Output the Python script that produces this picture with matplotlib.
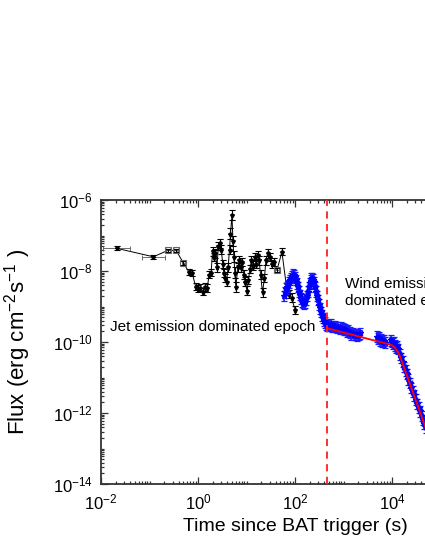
import numpy as np
import matplotlib
matplotlib.use("Agg")
import matplotlib.pyplot as plt
from matplotlib.ticker import LogLocator, NullFormatter

plt.rcParams['font.family'] = ['Liberation Sans', 'DejaVu Sans']
plt.rcParams['mathtext.fontset'] = 'custom'
plt.rcParams['mathtext.rm'] = 'Liberation Sans'
plt.rcParams['mathtext.it'] = 'Liberation Sans'
plt.rcParams['mathtext.default'] = 'regular'

# ---- data (log10 values) ----
# Black (prompt) light curve
black_logt = [-1.68, -0.92, -0.62, -0.45, -0.30, -0.19, -0.12, -0.05, 0.00, 0.05,
              0.10, 0.14, 0.19, 0.23, 0.27, 0.30, 0.33, 0.36, 0.39, 0.42,
              0.45, 0.48, 0.51, 0.53, 0.56, 0.59, 0.62, 0.65, 0.67, 0.70,
              0.72, 0.74, 0.76, 0.78, 0.82, 0.85, 0.88, 0.91, 0.94, 0.97,
              1.01, 1.04, 1.07, 1.10, 1.13, 1.17, 1.20, 1.23, 1.26, 1.29,
              1.33, 1.37, 1.40, 1.44, 1.48, 1.52, 1.57, 1.63, 1.73, 1.83,
              1.88, 1.93, 2.00]
black_logF = [-7.36, -7.60, -7.42, -7.42, -7.78, -8.02, -8.05, -8.44, -8.50, -8.47,
              -8.58, -8.45, -8.48, -8.10, -8.05, -7.45, -7.60, -7.50, -7.90, -7.30,
              -7.22, -7.40, -7.80, -8.05, -8.20, -8.30, -7.90, -7.40, -6.95, -6.42,
              -7.15, -7.60, -8.05, -8.45, -7.90, -7.70, -7.90, -7.75, -8.10, -8.30,
              -8.55, -8.25, -7.95, -7.70, -7.85, -7.60, -7.80, -7.55, -7.70, -8.10,
              -8.60, -8.20, -7.70, -7.50, -7.60, -7.80, -7.75, -7.97, -7.46, -8.50,
              -8.65, -8.75, -9.10]
black_dlogF = [0.06, 0.06, 0.04, 0.04, 0.05, 0.08, 0.08, 0.10, 0.10, 0.10,
               0.10, 0.10, 0.10, 0.10, 0.10, 0.12, 0.12, 0.12, 0.12, 0.12,
               0.12, 0.12, 0.12, 0.12, 0.12, 0.12, 0.12, 0.12, 0.15, 0.15,
               0.15, 0.15, 0.15, 0.15, 0.12, 0.12, 0.12, 0.12, 0.12, 0.12,
               0.12, 0.12, 0.12, 0.12, 0.12, 0.12, 0.12, 0.12, 0.12, 0.12,
               0.12, 0.12, 0.12, 0.12, 0.12, 0.12, 0.12, 0.06, 0.10, 0.12,
               0.12, 0.12, 0.12]
black_dlogt = [0.27, 0.23, 0.04, 0.04, 0.03, 0.02, 0.02, 0.02, 0.02, 0.02,
               0.02, 0.02, 0.02, 0.02, 0.02, 0.015, 0.015, 0.015, 0.015, 0.015,
               0.015, 0.015, 0.015, 0.015, 0.015, 0.015, 0.015, 0.015, 0.01, 0.01,
               0.01, 0.01, 0.01, 0.01, 0.015, 0.015, 0.015, 0.015, 0.015, 0.015,
               0.015, 0.015, 0.015, 0.015, 0.015, 0.015, 0.015, 0.015, 0.015, 0.015,
               0.015, 0.015, 0.015, 0.015, 0.015, 0.015, 0.015, 0.04, 0.02, 0.02,
               0.02, 0.02, 0.02]
black_square_idx = [2, 3, 4, 57]

# Blue (XRT) light curve
blue_logt = [1.78, 1.80, 1.82, 1.84, 1.86, 1.88, 1.90, 1.92, 1.94, 1.96,
             1.98, 2.00, 2.02, 2.04, 2.06, 2.08, 2.10, 2.12, 2.14, 2.16,
             2.18, 2.20, 2.22, 2.24, 2.26, 2.28, 2.30, 2.32, 2.34, 2.36,
             2.38, 2.40, 2.42, 2.44, 2.46, 2.48, 2.50, 2.52, 2.54, 2.56,
             2.58, 2.60, 2.62, 2.64, 2.66,
             2.68, 2.71, 2.74, 2.77, 2.80, 2.83, 2.86, 2.89, 2.92, 2.95,
             2.98, 3.01, 3.04, 3.07, 3.10, 3.13, 3.16, 3.19, 3.22, 3.25,
             3.28, 3.31, 3.34,
             3.70, 3.72, 3.74, 3.76, 3.78, 3.80, 3.82, 3.84, 3.86,
             3.98, 4.00, 4.02, 4.04, 4.06, 4.08, 4.10, 4.12,
             4.16, 4.19, 4.22, 4.25, 4.28, 4.31, 4.34, 4.37, 4.40, 4.43,
             4.46, 4.49, 4.52, 4.55, 4.58, 4.61, 4.64, 4.67, 4.70]
blue_logF = [-8.70, -8.60, -8.50, -8.45, -8.40, -8.32, -8.25, -8.20, -8.15, -8.10,
             -8.12, -8.18, -8.25, -8.35, -8.45, -8.58, -8.68, -8.78, -8.85, -8.90,
             -8.92, -8.88, -8.80, -8.70, -8.58, -8.45, -8.35, -8.27, -8.22, -8.20,
             -8.24, -8.32, -8.45, -8.58, -8.70, -8.82, -8.95, -9.05, -9.15, -9.25,
             -9.32, -9.40, -9.45, -9.50, -9.55,
             -9.52, -9.55, -9.50, -9.56, -9.58, -9.55, -9.60, -9.58, -9.63, -9.60,
             -9.62, -9.66, -9.64, -9.70, -9.68, -9.74, -9.78, -9.75, -9.80, -9.78,
             -9.82, -9.80, -9.76,
             -9.85, -9.90, -9.88, -9.95, -9.92, -9.98, -10.00, -9.96, -10.02,
             -9.95, -10.00, -10.05, -10.02, -10.10, -10.15, -10.12, -10.20,
             -10.35, -10.45, -10.55, -10.70, -10.80, -10.90, -11.05, -11.15, -11.30, -11.40,
             -11.50, -11.62, -11.75, -11.85, -11.95, -12.08, -12.20, -12.30, -12.40]
blue_dlogF = 0.15
blue_dlogt = 0.035

# Red broken power-law fit
red_logt = [2.66, 3.50, 3.90, 4.00, 4.06, 4.12, 4.17, 4.70]
red_logF = [-9.61, -9.91, -10.05, -10.09, -10.16, -10.27, -10.42, -12.44]

t_dashed = 460.0

xlim = (1e-2, 1e6)
ylim = (1e-14, 1e-6)
xticks = [1e-2, 1e0, 1e2, 1e4]
xticklabels = ['10$^{-2}$', '10$^{0}$', '10$^{2}$', '10$^{4}$']
yticks = [1e-14, 1e-12, 1e-10, 1e-8, 1e-6]
yticklabels = ['10$^{-14}$', '10$^{-12}$', '10$^{-10}$', '10$^{-8}$', '10$^{-6}$']

# ---- helpers ----
def to_lin(logv):
    return 10.0 ** np.asarray(logv, dtype=float)

def asym_err(logv, dlog):
    v = to_lin(logv)
    d = np.broadcast_to(np.asarray(dlog, dtype=float), v.shape)
    return np.vstack([v * (1 - 10.0 ** (-d)), v * (10.0 ** d - 1)])

# ---- figure ----
fig = plt.figure(figsize=(4.25, 5.5), dpi=100)
ax = fig.add_axes([101 / 425, 66 / 550, 388 / 425, 284 / 550])

bt = to_lin(black_logt)
bF = to_lin(black_logF)
ax.plot(bt, bF, color='black', lw=0.7, zorder=2)
ax.errorbar(bt, bF, yerr=asym_err(black_logF, black_dlogF),
            xerr=asym_err(black_logt, black_dlogt),
            fmt='none', ecolor='#555555', elinewidth=0.6, capsize=1.8,
            capthick=0.6, zorder=3)
ax.errorbar(bt, bF, yerr=asym_err(black_logF, black_dlogF),
            fmt='none', ecolor='black', elinewidth=0.8, capsize=2.2,
            capthick=0.8, zorder=3)
mask = np.zeros(len(bt), bool)
mask[black_square_idx] = True
ax.plot(bt[~mask], bF[~mask], ls='none', marker='*', ms=3, color='black', zorder=4)
ax.plot(bt[mask], bF[mask], ls='none', marker='s', ms=4.5, mfc='none',
        mec='#666666', mew=0.8, zorder=4)

ut = to_lin(blue_logt)
uF = to_lin(blue_logF)
ax.errorbar(ut, uF, yerr=asym_err(blue_logF, blue_dlogF),
            xerr=asym_err(blue_logt, blue_dlogt),
            fmt='*', ms=4, color='#0000ff', ecolor='#1a1aff', elinewidth=1.2,
            capsize=2.3, capthick=0.9, zorder=5)

ax.plot(to_lin(red_logt), to_lin(red_logF), color='#ff0000', lw=1.3, zorder=6)
ax.axvline(t_dashed, color='#ff2020', lw=1.3, ls=(0, (4, 3)), zorder=6)

ax.set_xscale('log')
ax.set_yscale('log')
ax.set_xlim(*xlim)
ax.set_ylim(*ylim)
ax.set_xticks(xticks)
ax.set_xticklabels(xticklabels)
ax.set_yticks(yticks)
ax.set_yticklabels(yticklabels)
ax.xaxis.set_minor_locator(LogLocator(base=10, subs=np.arange(1, 10), numticks=100))
ax.yaxis.set_minor_locator(LogLocator(base=10, subs=np.arange(1, 10), numticks=100))
ax.xaxis.set_minor_formatter(NullFormatter())
ax.yaxis.set_minor_formatter(NullFormatter())
ax.tick_params(which='both', direction='in', top=True, right=True,
               width=0.9, color='#333333', labelsize=12, pad=6)
ax.tick_params(which='major', length=5)
ax.tick_params(which='minor', length=2.5)
for s in ax.spines.values():
    s.set_linewidth(1.3)
    s.set_color('#333333')

ax.set_xlabel('Time since BAT trigger (s)', fontsize=14, labelpad=4)
ax.set_ylabel('Flux (erg cm$^{-2}$s$^{-1}$ )', fontsize=16)
ax.yaxis.set_label_coords((33 - 101) / 388, 0.5)

ax.text(0.0155, 10 ** -9.58, 'Jet emission dominated epoch', fontsize=11,
        ha='left', va='center')
ax.text(1080, 10 ** -8.61, 'Wind emission\ndominated epoch', fontsize=11,
        ha='left', va='center', linespacing=1.25)

fig.savefig('out.png', dpi=100)
